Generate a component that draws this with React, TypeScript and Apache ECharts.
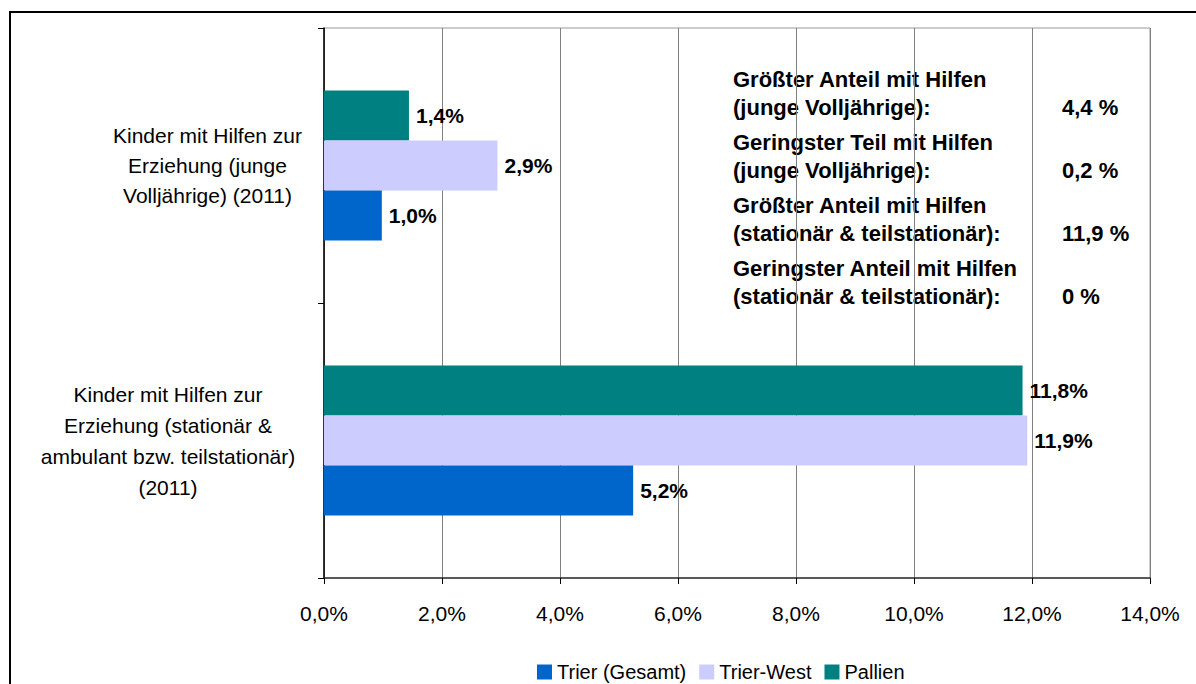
import React, { useEffect, useRef } from "react";
import * as echarts from "echarts";

const categories = [
  "Kinder mit Hilfen zur\nErziehung (stationär &\nambulant bzw. teilstationär)\n(2011)",
  "Kinder mit Hilfen zur\nErziehung (junge\nVolljährige) (2011)",
];
const seriesNames = ["Trier (Gesamt)", "Trier-West", "Pallien"];
const trierGesamt = [5.24, 0.98];
const trierWest = [11.92, 2.94];
const pallien = [11.84, 1.44];
const xTicks = [0, 2, 4, 6, 8, 10, 12, 14];

const noteLabels = [
  "Größter Anteil mit Hilfen",
  "(junge Volljährige):",
  "Geringster Teil mit Hilfen",
  "(junge Volljährige):",
  "Größter Anteil mit Hilfen",
  "(stationär & teilstationär):",
  "Geringster Anteil mit Hilfen",
  "(stationär & teilstationär):",
];
const noteValues = ["", "4,4 %", "", "0,2 %", "", "11,9 %", "", "0 %"];

const FONT = "'Liberation Sans', Arial, sans-serif";
const colors = ["#0066CC", "#CCCCFF", "#008080"];

export default function App() {
  const ref = useRef<HTMLDivElement>(null);
  useEffect(() => {
    if (!ref.current) return;
    const chart = echarts.init(ref.current, undefined, { renderer: "svg" });
    const fmt = (v: number) => v.toFixed(1).replace(".", ",") + "%";
    const noteY = [79, 107, 142, 170, 205, 233, 268, 296];
    const graphics: any[] = [
      {
        type: "rect",
        z: -10,
        shape: { x: 10, y: 12, width: 1200, height: 700 },
        style: { fill: "none", stroke: "#000", lineWidth: 2 },
        silent: true,
      },
    ];
    noteLabels.forEach((t, i) => {
      graphics.push({
        type: "text",
        x: 733,
        y: noteY[i],
        style: {
          text: t,
          font: `bold 22px ${FONT}`,
          fill: "#000",
          verticalAlign: "middle",
        },
      });
      if (noteValues[i]) {
        graphics.push({
          type: "text",
          x: 1062,
          y: noteY[i],
          style: {
            text: noteValues[i],
            font: `bold 22px ${FONT}`,
            fill: "#000",
            verticalAlign: "middle",
          },
        });
      }
    });
    const datas = [trierGesamt, trierWest, pallien];
    // draw order reversed so that the first series sits at the bottom of each band
    const order = [2, 1, 0];
    chart.setOption({
      animation: false,
      textStyle: { fontFamily: FONT },
      grid: {
        left: 324,
        top: 28,
        right: 46,
        bottom: 106,
        show: true,
        borderColor: "#999",
        borderWidth: 1,
        containLabel: false,
      },
      legend: {
        left: 532,
        top: 657,
        itemWidth: 15,
        itemHeight: 15,
        itemGap: 13,
        icon: "rect",
        textStyle: { fontSize: 20, color: "#000", fontFamily: FONT },
        data: seriesNames,
      },
      xAxis: {
        type: "value",
        min: xTicks[0],
        max: xTicks[xTicks.length - 1],
        interval: 2,
        axisLine: { show: true, lineStyle: { color: "#333", width: 1.5 } },
        axisTick: { show: true, length: 6, lineStyle: { color: "#000" } },
        splitLine: { show: true, lineStyle: { color: "#808080", width: 1 } },
        axisLabel: {
          fontSize: 21,
          color: "#000",
          fontFamily: FONT,
          margin: 25,
          formatter: (v: number) => fmt(v),
        },
      },
      yAxis: {
        type: "category",
        data: categories,
        axisLine: { show: true, lineStyle: { color: "#000", width: 1.5 } },
        axisTick: { show: true, length: 6, lineStyle: { color: "#000" } },
        axisLabel: {
          interval: 0,
          margin: 16,
          align: "right",
          fontSize: 21,
          color: "#000",
          fontFamily: FONT,
          formatter: (v: string, i: number) => `{c${i}|${v}}`,
          rich: {
            c0: { width: 280, align: "center", lineHeight: 31, fontSize: 21, fontFamily: FONT, color: "#000" },
            c1: { width: 201, align: "center", lineHeight: 30, fontSize: 21, fontFamily: FONT, color: "#000" },
          },
        },
      },
      series: order.map((i) => ({
        name: seriesNames[i],
        type: "bar",
        data: datas[i],
        barGap: "0%",
        barWidth: 50,
        itemStyle: { color: colors[i] },
        label: {
          show: true,
          position: "right",
          distance: 7,
          fontSize: 21,
          fontWeight: "bold",
          color: "#000",
          fontFamily: FONT,
          formatter: (p: any) => fmt(p.value),
        },
      })),
      graphic: graphics,
    });
    return () => chart.dispose();
  }, []);
  return (
    <div
      ref={ref}
      style={{ position: "fixed", left: 0, top: 0, width: 1196, height: 684, background: "#fff" }}
    />
  );
}
